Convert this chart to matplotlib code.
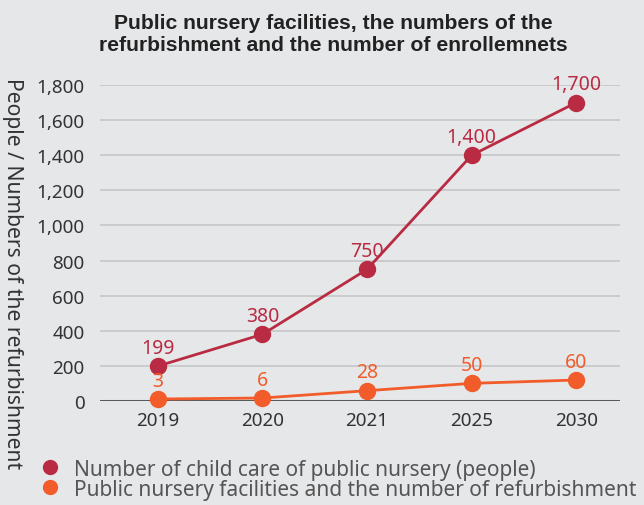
import numpy as np
import matplotlib.pyplot as plt
from matplotlib.lines import Line2D

years = ["2019", "2020", "2021", "2025", "2030"]
children = [199, 380, 750, 1400, 1700]
facilities = [3, 6, 28, 50, 60]
yticks = [0, 200, 400, 600, 800, 1000, 1200, 1400, 1600, 1800]

RED = "#b92b42"
ORANGE = "#f25c2a"
BG = "#e6e7e9"

plt.rcParams['font.family'] = ['Noto Sans', 'DejaVu Sans']

fig = plt.figure(figsize=(6.44, 5.06), dpi=100, facecolor=BG)
ax = fig.add_axes([0.155, 0.2055, 0.808, 0.6245], facecolor=BG)
x = np.arange(len(years))

ax.set_ylim(0, 1800)
ax.set_xlim(-0.555, 4.42)
ax.set_yticks(yticks)
ax.set_yticklabels([f"{v:,}" for v in yticks], fontsize=13.6, color="#333333")
ax.set_xticks(x)
ax.set_xticklabels(years, fontsize=13.6, color="#333333")
ax.tick_params(length=0, pad=11)
ax.tick_params(axis='x', pad=7)
ax.grid(axis='y', color="#c6c6c8", linewidth=1.2)
ax.set_axisbelow(True)
for s in ax.spines.values():
    s.set_visible(False)
ax.axhline(0, color="#5a5a5a", linewidth=2.2, zorder=2)

ax.plot(x, children, color=RED, linewidth=2, marker='o', markersize=11.5, zorder=4, clip_on=False)
for xi, v in zip(x, children):
    ax.annotate(f"{v:,}", (xi, v), xytext=(0, 6), textcoords='offset points',
                ha='center', va='bottom', fontsize=14, color=RED)

# second series sits on its own (hidden) scale
ax2 = ax.twinx()
ax2.set_ylim(-3, 945)
ax2.axis('off')
ax2.plot(x, facilities, color=ORANGE, linewidth=2, marker='o', markersize=11.5, zorder=4, clip_on=False)
for xi, v in zip(x, facilities):
    ax2.annotate(f"{v:,}", (xi, v), xytext=(0, 6), textcoords='offset points',
                 ha='center', va='bottom', fontsize=14, color=ORANGE)

fig.text(0.518, 0.973, "Public nursery facilities, the numbers of the\nrefurbishment and the number of enrollemnets",
         ha='center', va='top', fontsize=15.2, fontweight='bold', color="#222222", linespacing=1.2,
         family=['Liberation Sans', 'DejaVu Sans'])
fig.text(0.019, 0.46, "People / Numbers of the refurbishment", rotation=270,
         ha='center', va='center', fontsize=15.2, color="#333333")

handles = [Line2D([], [], linestyle='none', marker='o', markersize=10, color=RED),
           Line2D([], [], linestyle='none', marker='o', markersize=10, color=ORANGE)]
labels = ["Number of child care of public nursery (people)",
          "Public nursery facilities and the number of refurbishment"]
fig.legend(handles, labels, loc='upper left', bbox_to_anchor=(0.046, 0.112), frameon=False,
           fontsize=15, labelcolor="#555555", handletextpad=0.65, labelspacing=-0.05,
           borderpad=0, handlelength=1.0)

fig.savefig("out.png", dpi=100, facecolor=BG)
